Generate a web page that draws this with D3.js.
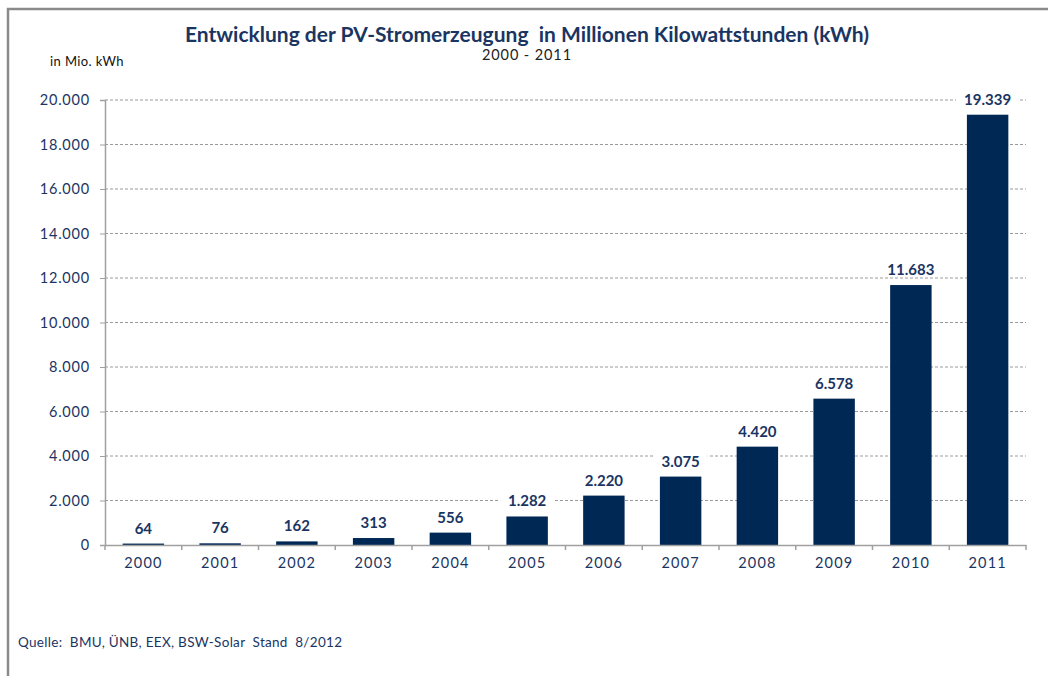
<!DOCTYPE html>
<html><head><meta charset="utf-8">
<script src="https://cdn.jsdelivr.net/npm/d3@7"></script>
<style>body{margin:0;background:#fff}svg{display:block}text{font-family:Lato,"Open Sans",sans-serif;white-space:pre}</style>
</head><body><svg id="c" width="1048" height="676"></svg>
<script>
const years = ["2000","2001","2002","2003","2004","2005","2006","2007","2008","2009","2010","2011"];
const values = [64,76,162,313,556,1282,2220,3075,4420,6578,11683,19339];
const yTicks = [0,2000,4000,6000,8000,10000,12000,14000,16000,18000,20000];
const title = "Entwicklung der PV-Stromerzeugung  in Millionen Kilowattstunden (kWh)";
const subtitle = "2000 - 2011";
const unitLabel = "in Mio. kWh";
const source = "Quelle:  BMU, ÜNB, EEX, BSW-Solar  Stand  8/2012";

const navy = "#002855", textNavy = "#1a3562";
const svg = d3.select("#c");
const fmt = v => d3.format(",")(v).replace(/,/g, ".");

// frame
svg.append("path").attr("d","M8,676 V9 H1048").attr("fill","none").attr("stroke","#8a8a8a").attr("stroke-width",2.5);

const m = {l:105, r:1026, t:100, b:545};
const x = d3.scaleBand().domain(years).range([m.l, m.r]).paddingInner(0.46).paddingOuter(0.23);
const y = d3.scaleLinear().domain([0,20000]).range([m.b, m.t]);

// grid
svg.append("g").selectAll("line").data(yTicks.filter(d=>d>0)).join("line")
  .attr("x1", m.l).attr("x2", m.r).attr("y1", d=>y(d)).attr("y2", d=>y(d))
  .attr("stroke","#9a9a9a").attr("stroke-width",1).attr("stroke-dasharray","3,2");

// y axis
const ya = svg.append("g").attr("transform",`translate(${m.l},0)`)
  .call(d3.axisLeft(y).tickValues(yTicks).tickFormat(fmt).tickSize(5).tickPadding(10));
ya.select(".domain").attr("stroke","#a0a0a0").attr("stroke-width",1.5);
ya.selectAll(".tick line").attr("stroke","#a0a0a0");
ya.selectAll("text").attr("fill",textNavy).attr("font-size",14.5).attr("letter-spacing","0.8px").style("font-family","Lato,sans-serif");

// bars
svg.append("g").selectAll("rect").data(values).join("rect")
  .attr("x",(d,i)=>x(years[i])).attr("width",x.bandwidth())
  .attr("y",d=>y(d)).attr("height",d=>y(0)-y(d)).attr("fill",navy);

// x axis
const step = x.step();
const xa = svg.append("g").attr("transform",`translate(0,${m.b})`)
  .call(d3.axisBottom(x).tickSize(0).tickPadding(13));
xa.select(".domain").attr("stroke","#a0a0a0").attr("stroke-width",1.5);
xa.selectAll("text").attr("fill",textNavy).attr("font-size",14.5).attr("letter-spacing","1.1px").style("font-family","Lato,sans-serif");
xa.selectAll(".sep").data(d3.range(years.length+1)).join("line").attr("class","sep")
  .attr("x1",i=>m.l+i*step).attr("x2",i=>m.l+i*step).attr("y1",0).attr("y2",5)
  .attr("stroke","#a0a0a0").attr("stroke-width",1.5);

// value labels
const lbl = svg.append("g").selectAll("g").data(values).join("g");
lbl.append("rect")
  .attr("x",(d,i)=>x(years[i])+x.bandwidth()/2 - fmt(d).length*4.6-4)
  .attr("y",d=>y(d)-24).attr("width",d=>fmt(d).length*9.2+8).attr("height",16).attr("fill","#fff");
lbl.append("text").attr("x",(d,i)=>x(years[i])+x.bandwidth()/2).attr("y",d=>y(d)-10)
  .attr("text-anchor","middle").attr("fill",textNavy).attr("font-size",15).attr("font-weight","bold").text(fmt);

// titles
svg.append("text").attr("x",527).attr("y",42).attr("text-anchor","middle").attr("fill",textNavy)
  .attr("font-size",21).attr("font-weight","bold").text(title);
svg.append("text").attr("x",527).attr("y",60).attr("text-anchor","middle").attr("fill","#222")
  .attr("font-size",14.5).attr("letter-spacing","0.9px").text(subtitle);
svg.append("text").attr("x",50).attr("y",66).attr("fill","#111").attr("font-size",13).attr("letter-spacing","0.4px").text(unitLabel);
svg.append("text").attr("x",18).attr("y",647).attr("fill",textNavy).attr("font-size",13.5).attr("letter-spacing","0.3px").text(source);
</script></body></html>
